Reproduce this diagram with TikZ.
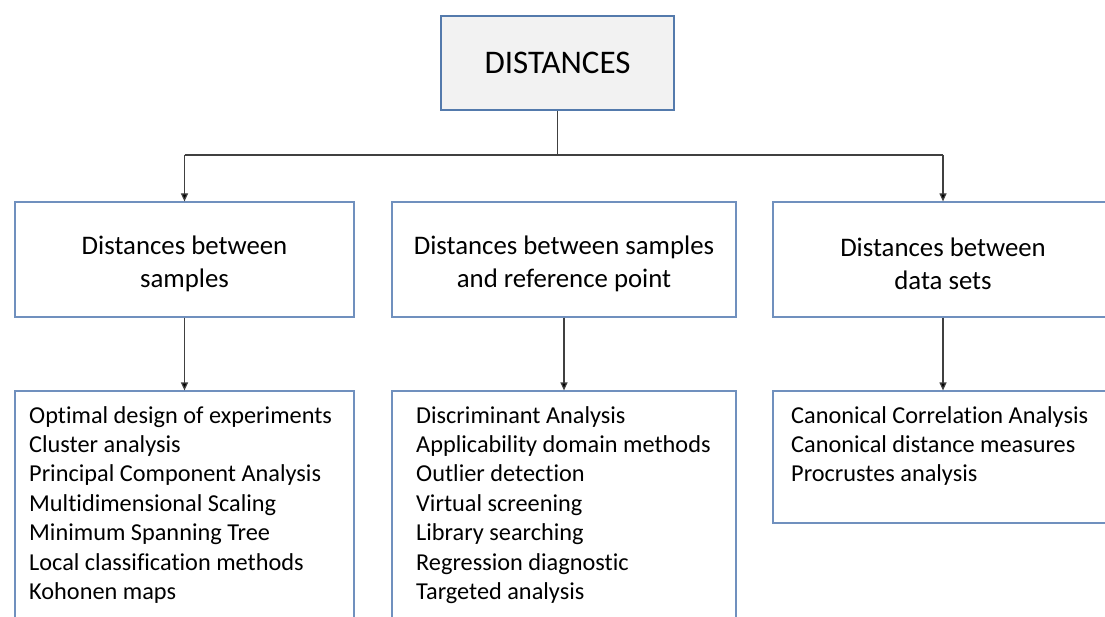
\documentclass[tikz,border=0pt]{standalone}
\usepackage{fontspec}
\setmainfont{Carlito}[Ligatures={NoCommon,NoRare,NoContextual}]
\usetikzlibrary{arrows.meta}
\definecolor{boxblue}{RGB}{112,144,190}
\definecolor{topblue}{RGB}{84,122,172}
\definecolor{topfill}{RGB}{242,242,242}
\definecolor{linegray}{RGB}{64,64,64}
\begin{document}
\begin{tikzpicture}[x=1pt,y=-1pt,
  box/.style={draw=boxblue,line width=1.2pt,fill=white,inner sep=0pt},
  topbox/.style={draw=topblue,line width=1.2pt,fill=topfill,inner sep=0pt},
  midtext/.style={align=center,inner sep=0pt,font=\fontsize{26.8}{33}\selectfont},
  listtext/.style={align=left,inner sep=0pt,anchor=north west,font=\fontsize{24.3}{29.4}\selectfont},
  conn/.style={draw=linegray,line width=1.2pt},
  arr/.style={conn,-{Triangle[length=8pt,width=7pt,fill=black]}},
]
\useasboundingbox (0,0) rectangle (1105,617);
\clip (0,0) rectangle (1105,617);
\fill[white] (0,0) rectangle (1105,617);

\node[topbox,minimum width=233pt,minimum height=94pt,font=\fontsize{33}{38}\selectfont] (top) at (557.5,63) {DISTANCES};

\node[box,minimum width=339pt,minimum height=115pt] (sA) at (184.5,259.5) {};
\node[box,minimum width=344pt,minimum height=115pt] (sB) at (564,259.5) {};
\node[box,minimum width=340pt,minimum height=115pt] (sC) at (943,259.5) {};
\node[midtext] (sAt) at ([yshift=-4pt]sA.center) {Distances between\\samples};
\node[midtext] (sBt) at ([yshift=-4pt]sB.center) {Distances between samples\\and reference point};
\node[midtext] (sCt) at ([yshift=-4pt]sC.center) {Distances between\\data sets};

\node[box,minimum width=339pt,minimum height=240pt] (lA) at (184.5,511) {};
\node[box,minimum width=344pt,minimum height=240pt] (lB) at (564,511) {};
\node[box,minimum width=340pt,minimum height=132pt] (lC) at (943,457) {};

\node[listtext] (tA) at (29,406) {Optimal design of experiments\\Cluster analysis\\Principal Component Analysis\\Multidimensional Scaling\\Minimum Spanning Tree\\Local classification methods\\Kohonen maps};
\node[listtext] (tB) at (416,406) {Discriminant Analysis\\Applicability domain methods\\Outlier detection\\Virtual screening\\Library searching\\Regression diagnost\kern0pt ic\\Targeted analysis};
\node[listtext] (tC) at (791,406) {Canonical Correlation Analysis\\Canonical distance measures\\Procrustes analysis};

\coordinate (hub) at (557.5,155);
\coordinate (hl) at (sA.north |- hub);
\coordinate (hr) at (sC.north |- hub);
\draw[conn] (top.south) -- (hub);
\draw[conn] (hl) -- (hr);
\draw[arr] (hl) -- (sA.north);
\draw[arr] (hr) -- (sC.north);
\draw[arr] (sA.south) -- (lA.north);
\draw[arr] (sB.south) -- (lB.north);
\draw[arr] (sC.south) -- (lC.north);
\end{tikzpicture}
\end{document}
